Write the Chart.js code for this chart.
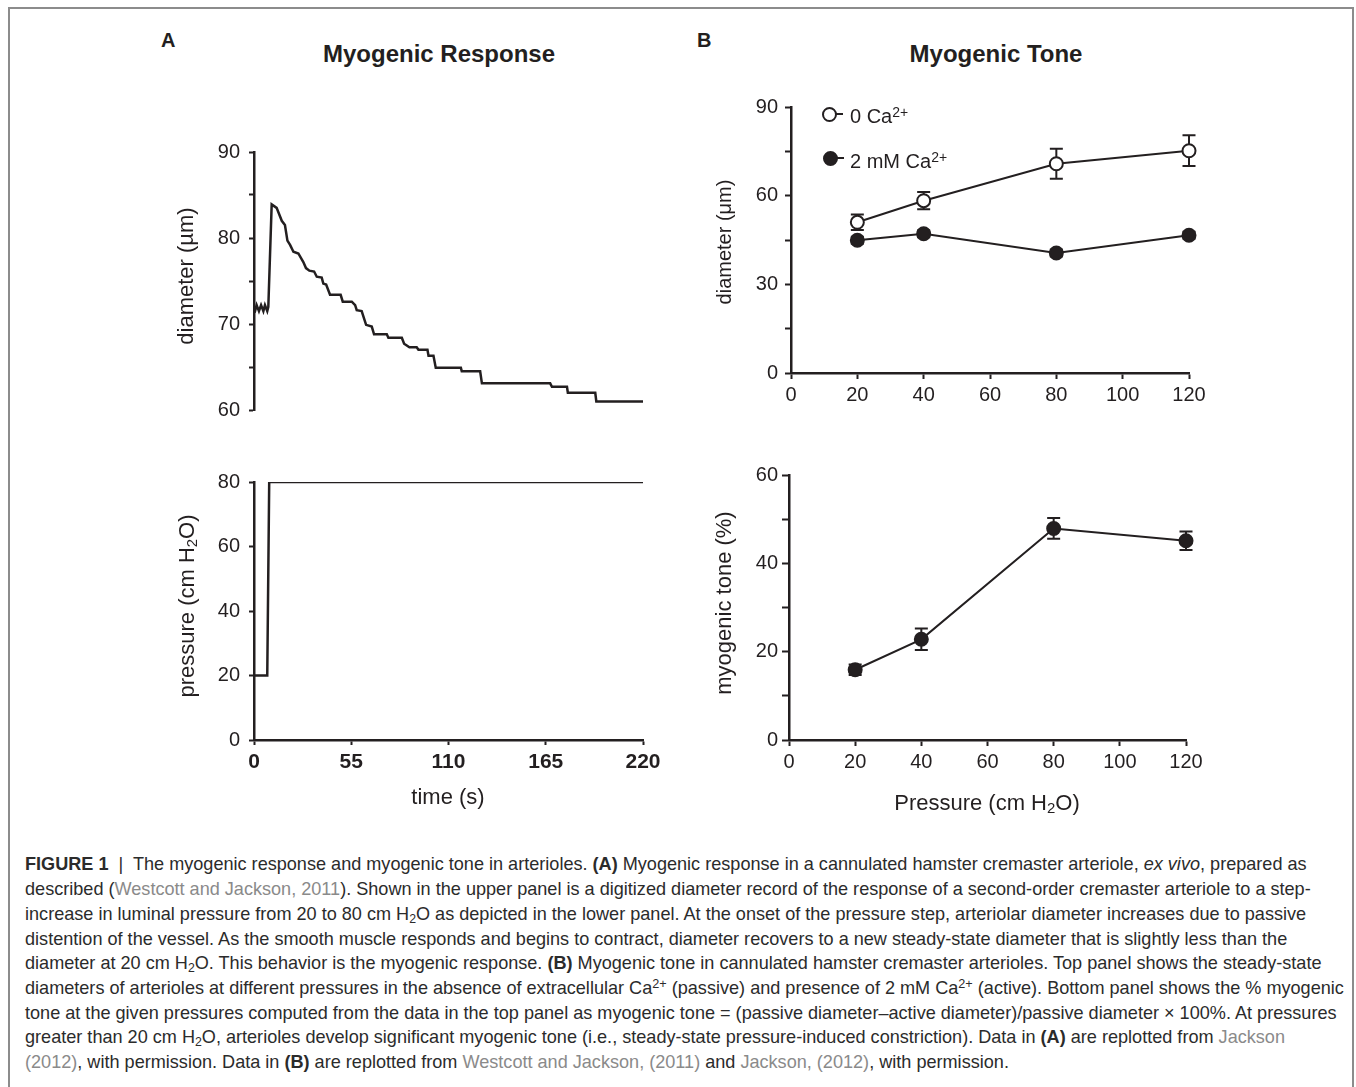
<!DOCTYPE html>
<html>
<head>
<meta charset="utf-8">
<script src="https://cdn.jsdelivr.net/npm/chart.js@4.4.1/dist/chart.umd.min.js"></script>
<style>
  html, body { margin: 0; padding: 0; background: #fff; }
  body { width: 1356px; height: 1087px; position: relative; overflow: hidden;
         font-family: "Liberation Sans", Arial, Helvetica, sans-serif; color: #231f20; }
  #frame { position: absolute; left: 8px; top: 7px; width: 1346px; height: 1095px;
           border: 2px solid #8c8c8c; box-sizing: border-box; }
  canvas { position: absolute; }
  .t { position: absolute; white-space: nowrap; line-height: 1; }
  .hc { transform: translateX(-50%); }
  .vt { position: absolute; white-space: nowrap; line-height: 1;
        transform: translate(-50%, -50%) rotate(-90deg); }
  sub { font-size: 0.68em; vertical-align: -0.22em; line-height: 0; }
  sup { font-size: 0.7em; vertical-align: 0.45em; line-height: 0; }
  .mk { position: absolute; width: 15px; height: 15px; border-radius: 50%;
        box-sizing: border-box; border: 2px solid #231f20; }
  .stub { position: absolute; height: 2px; background: #231f20; }
  #caption { position: absolute; left: 25px; top: 856px; line-height: 24.7px;
             font-size: 16px; color: #2b2b2b; white-space: nowrap; }
  #caption a { color: #8a8a8a; text-decoration: none; }
</style>
</head>
<body>
<div id="frame"></div>

<div class="t" style="left:161px; top:30px; font-size:20px; font-weight:bold;">A</div>
<div class="t" style="left:697px; top:30px; font-size:20px; font-weight:bold;">B</div>
<div class="t hc" style="left:439px; top:42px; font-size:24px; font-weight:bold;">Myogenic Response</div>
<div class="t hc" style="left:996px; top:42px; font-size:24px; font-weight:bold;">Myogenic Tone</div>

<canvas id="diamChart" width="519" height="300" style="left:154px; top:131px;"></canvas>
<canvas id="pressChart" width="519" height="349" style="left:154px; top:461px;"></canvas>
<canvas id="steadyChart" width="528" height="356" style="left:691px; top:87px;"></canvas>
<canvas id="toneChart" width="527" height="355" style="left:689px; top:455px;"></canvas>

<div class="vt" style="left:186px; top:276px; font-size:22px;">diameter (µm)</div>
<div class="vt" style="left:187px; top:606px; font-size:22px;">pressure (cm H<sub>2</sub>O)</div>
<div class="t hc" style="left:448px; top:785.5px; font-size:22px;">time (s)</div>
<div class="vt" style="left:724px; top:242px; font-size:20px;">diameter (μm)</div>
<div class="vt" style="left:724px; top:603px; font-size:22px;">myogenic tone (%)</div>
<div class="t hc" style="left:987px; top:792px; font-size:22px;">Pressure (cm H<sub>2</sub>O)</div>

<!-- legend, panel B top -->
<div class="mk" style="left:821.5px; top:106.5px; background:#fff;"></div>
<div class="stub" style="left:836px; top:113px; width:7px;"></div>
<div class="t" style="left:850px; top:106px; font-size:20px;">0 Ca<sup>2+</sup></div>
<div class="mk" style="left:822.5px; top:150.5px; background:#231f20;"></div>
<div class="stub" style="left:837px; top:157px; width:7px;"></div>
<div class="t" style="left:850px; top:151px; font-size:20px;">2 mM Ca<sup>2+</sup></div>

<div id="caption">
<div><b>FIGURE 1</b> &nbsp;|&nbsp; The myogenic response and myogenic tone in arterioles. <b>(A)</b> Myogenic response in a cannulated hamster cremaster arteriole, <i>ex vivo</i>, prepared as</div>
<div>described (<a>Westcott and Jackson, 2011</a>). Shown in the upper panel is a digitized diameter record of the response of a second-order cremaster arteriole to a step-</div>
<div>increase in luminal pressure from 20 to 80 cm H<sub>2</sub>O as depicted in the lower panel. At the onset of the pressure step, arteriolar diameter increases due to passive</div>
<div>distention of the vessel. As the smooth muscle responds and begins to contract, diameter recovers to a new steady-state diameter that is slightly less than the</div>
<div>diameter at 20 cm H<sub>2</sub>O. This behavior is the myogenic response. <b>(B)</b> Myogenic tone in cannulated hamster cremaster arterioles. Top panel shows the steady-state</div>
<div>diameters of arterioles at different pressures in the absence of extracellular Ca<sup>2+</sup> (passive) and presence of 2 mM Ca<sup>2+</sup> (active). Bottom panel shows the % myogenic</div>
<div><span id="capLine7">tone at the given pressures computed from the data in the top panel as myogenic tone = (passive diameter–active diameter)/passive diameter × 100%. At pressures</span></div>
<div>greater than 20 cm H<sub>2</sub>O, arterioles develop significant myogenic tone (i.e., steady-state pressure-induced constriction). Data in <b>(A)</b> are replotted from <a>Jackson</a></div>
<div><a>(2012)</a>, with permission. Data in <b>(B)</b> are replotted from <a>Westcott and Jackson, (2011)</a> and <a>Jackson, (2012)</a>, with permission.</div>
</div>

<script>
// Panel A: digitized diameter record (s, µm)
const timeS = [0, 0.6, 1.5, 2.8, 4.0, 5.3, 6.2, 7.5, 8.1, 10.0, 12.8, 15.7, 17.5, 18.9, 20.4, 22.3,
  25.1, 27.9, 29.4, 31.3, 34.0, 35.5, 38.3, 39.2, 40.8, 43.0, 49.0, 50.2, 55.3, 57.2, 58.1,
  60.9, 63.4, 66.6, 67.9, 75.1, 76.0, 83.6, 84.9, 87.9, 92.0, 93.0, 98.1, 98.7, 101.5, 102.8,
  117.0, 117.5, 127.9, 128.9, 167.5, 168.5, 177.0, 177.5, 193.0, 193.6, 220];
const diameterUm = [71.6, 71.5, 72.2, 71.5, 72.2, 71.5, 72.2, 71.5, 72.0, 83.9, 83.5, 82.0, 81.5, 79.7, 79.2, 78.4,
  78.2, 77.2, 76.5, 76.2, 76.1, 75.5, 75.4, 74.7, 74.6, 73.4, 73.4, 72.6, 72.6, 72.2, 71.6,
  71.5, 69.9, 69.7, 68.8, 68.8, 68.4, 68.4, 67.7, 67.3, 67.3, 67.0, 67.0, 66.3, 66.3, 64.9,
  64.9, 64.5, 64.5, 63.1, 63.1, 62.7, 62.7, 62.0, 62.0, 61.0, 61.0];

// Panel A: pressure step (s, cm H2O)
const stepTimeS = [0, 7.5, 8.6, 220];
const stepPressure = [20, 20, 80, 80];
const timeTicks = [0, 55, 110, 165, 220];

// Panel B: steady-state diameters and myogenic tone
const pressures = [20, 40, 80, 120];
const diamNoCa = [51.0, 58.3, 70.8, 75.2];
const diamNoCaErr = [2.6, 2.9, 5.1, 5.2];
const diamCa = [44.9, 47.1, 40.6, 46.6];
const diamCaErr = [1.2, 1.2, 1.2, 1.2];
const tonePct = [15.9, 22.8, 47.9, 45.1];
const tonePctErr = [1.2, 2.45, 2.35, 2.1];

const INK = '#231f20';
const FONT = '"Liberation Sans", Arial, Helvetica, sans-serif';

Chart.defaults.font.family = FONT;
Chart.defaults.color = INK;
Chart.defaults.animation = false;
Chart.defaults.plugins.legend.display = false;
Chart.defaults.plugins.tooltip.enabled = false;

const toXY = (xs, ys) => xs.map((x, i) => ({ x: x, y: ys[i] }));

// error bars with caps, drawn under the markers
const errorBars = {
  id: 'errorBars',
  beforeDatasetsDraw(chart) {
    const { ctx, scales } = chart;
    ctx.save();
    ctx.strokeStyle = INK;
    ctx.lineWidth = 2;
    chart.data.datasets.forEach(ds => {
      if (!ds.errors) return;
      ds.data.forEach((p, i) => {
        const x = scales.x.getPixelForValue(p.x);
        const y1 = scales.y.getPixelForValue(p.y + ds.errors[i]);
        const y2 = scales.y.getPixelForValue(p.y - ds.errors[i]);
        ctx.beginPath();
        ctx.moveTo(x, y1); ctx.lineTo(x, y2);
        ctx.moveTo(x - 6.5, y1); ctx.lineTo(x + 6.5, y1);
        ctx.moveTo(x - 6.5, y2); ctx.lineTo(x + 6.5, y2);
        ctx.stroke();
      });
    });
    ctx.restore();
  }
};

function yAxis(min, max, step, major, width, tick, pad) {
  return {
    type: 'linear', min: min, max: max,
    afterFit: s => { s.width = width; },
    border: { display: true, color: INK, width: 2.5 },
    grid: { drawOnChartArea: false, drawTicks: true, tickLength: tick, tickWidth: 2, color: INK },
    ticks: { stepSize: step, autoSkip: false, padding: pad, color: INK, font: { size: 20 },
      callback: v => (v % major === 0 ? v : '') }
  };
}

function xAxis(min, max, step, tick, pad, bold) {
  return {
    type: 'linear', min: min, max: max,
    afterFit: s => { s.height = 60; },
    border: { display: true, color: INK, width: 2.5 },
    grid: { drawOnChartArea: false, drawTicks: true, tickLength: tick, tickWidth: 2, color: INK },
    ticks: { stepSize: step, autoSkip: false, maxRotation: 0, padding: pad, color: INK,
      font: { size: bold ? 21 : 20, weight: bold ? 'bold' : 'normal' } }
  };
}

new Chart(document.getElementById('diamChart'), {
  type: 'line',
  data: {
    datasets: [{
      data: toXY(timeS, diameterUm),
      borderColor: INK, borderWidth: 2.5, pointRadius: 0, tension: 0, fill: false
    }]
  },
  options: {
    responsive: false,
    layout: { padding: { left: 0, top: 20, right: 30, bottom: 20 } },
    scales: {
      x: { type: 'linear', min: 0, max: 220, display: false },
      y: yAxis(60, 90, 5, 10, 100, 5, 9)
    }
  }
});

new Chart(document.getElementById('pressChart'), {
  type: 'line',
  data: {
    datasets: [{
      data: toXY(stepTimeS, stepPressure),
      borderColor: INK, borderWidth: 2.5, pointRadius: 0, tension: 0, fill: false
    }]
  },
  options: {
    responsive: false,
    layout: { padding: { left: 0, top: 20, right: 30, bottom: 10 } },
    scales: {
      x: Object.assign(xAxis(0, 220, 55, 5, 5, true), {
        afterBuildTicks: s => { s.ticks = timeTicks.map(v => ({ value: v })); }
      }),
      y: yAxis(0, 80, 20, 20, 100, 5, 9)
    }
  }
});

new Chart(document.getElementById('steadyChart'), {
  type: 'line',
  data: {
    datasets: [
      {
        label: '0 Ca2+',
        data: toXY(pressures, diamNoCa), errors: diamNoCaErr,
        borderColor: INK, borderWidth: 2, tension: 0, clip: false,
        pointRadius: 6.5, pointBorderWidth: 2, pointBorderColor: INK, pointBackgroundColor: '#fff'
      },
      {
        label: '2 mM Ca2+',
        data: toXY(pressures, diamCa), errors: diamCaErr,
        borderColor: INK, borderWidth: 2, tension: 0, clip: false,
        pointRadius: 6.5, pointBorderWidth: 2, pointBorderColor: INK, pointBackgroundColor: INK
      }
    ]
  },
  options: {
    responsive: false,
    layout: { padding: { left: 0, top: 20, right: 30, bottom: 10 } },
    scales: {
      x: xAxis(0, 120, 20, 6, 4, false),
      y: yAxis(0, 90, 15, 30, 100, 6, 7)
    }
  },
  plugins: [errorBars]
});

new Chart(document.getElementById('toneChart'), {
  type: 'line',
  data: {
    datasets: [{
      label: 'myogenic tone',
      data: toXY(pressures, tonePct), errors: tonePctErr,
      borderColor: INK, borderWidth: 2, tension: 0, clip: false,
      pointRadius: 6.5, pointBorderWidth: 2, pointBorderColor: INK, pointBackgroundColor: INK
    }]
  },
  options: {
    responsive: false,
    layout: { padding: { left: 0, top: 20, right: 30, bottom: 10 } },
    scales: {
      x: xAxis(0, 120, 20, 6, 4, false),
      y: yAxis(0, 60, 10, 20, 100, 7, 4)
    }
  },
  plugins: [errorBars]
});

// fit caption width to the reference (line 7 runs from x=25 to x=1337)
const cap = document.getElementById('caption');
const w7 = document.getElementById('capLine7').getBoundingClientRect().width;
const fs = 16 * 1312 / w7;
cap.style.fontSize = fs.toFixed(2) + 'px';
cap.style.top = (871 - ((24.7 - 1.117 * fs) / 2 + 0.905 * fs)).toFixed(1) + 'px';
</script>
</body>
</html>
